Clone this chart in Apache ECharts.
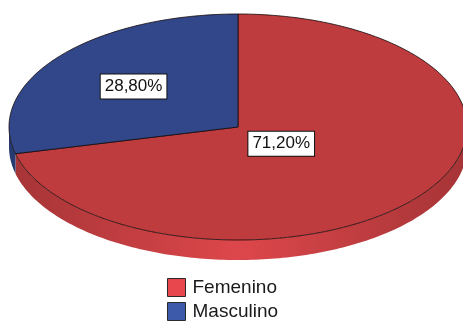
<!DOCTYPE html>
<html>
<head>
<meta charset="utf-8">
<script src="https://cdn.jsdelivr.net/npm/echarts@6/dist/echarts.min.js"></script>
<style>
  html, body { margin: 0; padding: 0; background: #ffffff; }
  #chart { width: 463px; height: 325px; }
</style>
</head>
<body>
<div id="chart"></div>
<script>
// Sex distribution (percent of respondents)
const categories = ['Femenino', 'Masculino'];
const percentages = [71.2, 28.8];

// Look of the tilted pie
const FONT = "'Liberation Sans', Arial, sans-serif";
const topColors = ['#be3b3e', '#31478a'];
const sideDark = ['#a53436', '#263a70'];
const sideLight = ['#dd474b', '#3a55a0'];
const legendColors = ['#e8484d', '#3d5aaa'];
const labelRadius = [0.24, 0.58];

const cx = 238, cy = 127, rx = 229, ry = 113, depth = 20;

function pt(deg, dy) {
  const r = deg * Math.PI / 180;
  return [cx + rx * Math.sin(r), cy - ry * Math.cos(r) + (dy || 0)];
}
function arc(a, b, dy) {
  const pts = [];
  const n = Math.max(2, Math.ceil(Math.abs(b - a)));
  for (let k = 0; k <= n; k++) pts.push(pt(a + (b - a) * k / n, dy));
  return pts;
}
function fmt(v) {
  return v.toFixed(2).replace('.', ',') + '%';
}

const total = percentages.reduce((s, v) => s + v, 0);

function renderItem(params, api) {
  const i = params.seriesIndex;
  const v = api.value(0);
  let before = 0;
  for (let k = 0; k < i; k++) before += percentages[k];
  const start = before / total * 360;
  const end = start + v / total * 360;
  const children = [];

  // visible rim of the slice (front half of the disc)
  const a = Math.max(start, 90), b = Math.min(end, 270);
  if (b > a) {
    const pts = arc(a, b, 0).concat(arc(b, a, depth));
    children.push({
      type: 'polygon',
      z2: 1,
      shape: { points: pts },
      style: {
        fill: new echarts.graphic.LinearGradient(cx - rx, 0, cx + rx, 0, [
          { offset: 0, color: sideDark[i] },
          { offset: 0.5, color: sideLight[i] },
          { offset: 1, color: sideDark[i] }
        ], true),
        stroke: null
      }
    });
  }

  // top face of the slice
  children.push({
    type: 'polygon',
    z2: 10,
    shape: { points: [[cx, cy]].concat(arc(start, end, 0)) },
    style: { fill: topColors[i], stroke: 'rgba(20,10,10,0.8)', lineWidth: 1 }
  });

  // value label in a white box
  const mid = (start + end) / 2 * Math.PI / 180;
  const f = labelRadius[i];
  children.push({
    type: 'text',
    z2: 20,
    style: {
      x: cx + rx * f * Math.sin(mid),
      y: cy - ry * f * Math.cos(mid),
      text: fmt(v),
      font: '17px ' + FONT,
      fill: '#111111',
      align: 'center',
      verticalAlign: 'middle',
      backgroundColor: '#ffffff',
      borderColor: '#111111',
      borderWidth: 1,
      padding: [4, 4, 3, 4]
    }
  });

  return { type: 'group', children: children };
}

const chart = echarts.init(document.getElementById('chart'), null, { renderer: 'canvas' });
chart.setOption({
  backgroundColor: '#ffffff',
  animation: false,
  legend: {
    orient: 'vertical',
    left: 167,
    top: 278,
    padding: 0,
    itemWidth: 18,
    itemHeight: 18,
    itemGap: 5,
    icon: 'rect',
    data: categories,
    textStyle: { fontSize: 19, fontFamily: FONT, color: '#1a1a1a', padding: [0, 0, 0, 2] },
    itemStyle: { borderColor: '#2a2a2a', borderWidth: 1 }
  },
  series: categories.map((name, i) => ({
    type: 'custom',
    name: name,
    coordinateSystem: 'none',
    renderItem: renderItem,
    itemStyle: { color: legendColors[i] },
    data: [[percentages[i]]]
  }))
});
</script>
</body>
</html>
